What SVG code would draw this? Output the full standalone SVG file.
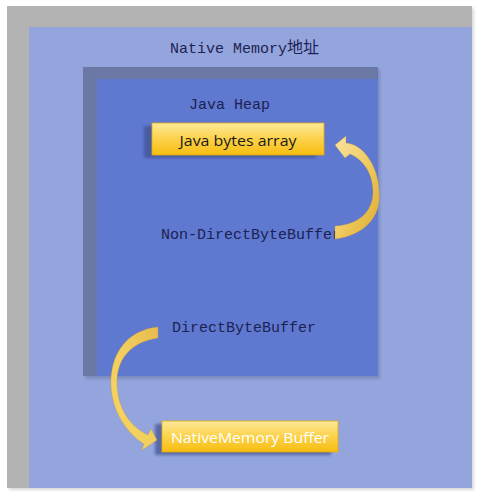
<svg xmlns="http://www.w3.org/2000/svg" width="477" height="496" viewBox="0 0 477 496">
<defs>
<linearGradient id="boxGrad" x1="0" y1="0" x2="0" y2="1">
<stop offset="0" stop-color="#fde99a"/>
<stop offset="0.5" stop-color="#fcd24a"/>
<stop offset="1" stop-color="#f7bd10"/>
</linearGradient>
<linearGradient id="arrowGradA" x1="0" y1="0" x2="1" y2="1">
<stop offset="0" stop-color="#f8e3a0"/>
<stop offset="0.5" stop-color="#efcb62"/>
<stop offset="1" stop-color="#dcaa2c"/>
</linearGradient>
<linearGradient id="arrowGradB" x1="1" y1="0" x2="0" y2="1">
<stop offset="0" stop-color="#e6bc50"/>
<stop offset="0.5" stop-color="#f2cf5c"/>
<stop offset="1" stop-color="#f6d466"/>
</linearGradient>
<filter id="soft" x="-10%" y="-10%" width="120%" height="120%">
<feGaussianBlur stdDeviation="1.5"/>
</filter>
</defs>
<style>
.mono{font-family:"Liberation Mono","Noto Sans CJK SC",monospace;font-size:15px;fill:#1c2252}
.box{fill:url(#boxGrad);stroke:#e3aa10;stroke-width:0.8}
.shadow{fill:#3e4f8e;opacity:0.7}
.btxt{font-family:"Open Sans","Liberation Sans",sans-serif;font-size:15px}
.arrow{stroke:#c9982a;stroke-width:0.6;stroke-opacity:0.5}
</style>
<rect width="477" height="496" fill="#ffffff"/>
<g id="native-memory">
<rect x="9" y="8" width="465" height="482" fill="#000" opacity="0.15" filter="url(#soft)"/>
<rect x="7" y="6" width="465" height="482" fill="#b3b3b3"/>
<rect x="29" y="27" width="443" height="461" fill="#94a5de"/>
<text class="mono" x="170" y="53">Native Memory<tspan font-size="16">地址</tspan></text>
</g>
<g id="java-heap">
<rect x="85" y="69" width="295" height="310" fill="#000" opacity="0.15" filter="url(#soft)"/>
<rect x="83" y="67" width="295" height="309" fill="#6b78a6"/>
<rect x="97" y="79" width="281" height="297" fill="#5f78d0"/>
<text class="mono" x="189" y="109">Java Heap</text>
</g>
<g id="java-bytes-array">
<rect class="shadow" x="144" y="126" width="172" height="32" filter="url(#soft)"/>
<rect class="box" x="152" y="123" width="172" height="32"/>
<text class="btxt" x="238" y="146" text-anchor="middle" fill="#1a1a1a" textLength="117" lengthAdjust="spacingAndGlyphs">Java bytes array</text>
</g>
<g id="non-direct-byte-buffer">
<text class="mono" x="161" y="239">Non-DirectByteBuffer</text>
</g>
<g id="direct-byte-buffer">
<text class="mono" x="172" y="332">DirectByteBuffer</text>
</g>
<g id="native-memory-buffer">
<rect class="shadow" x="155" y="424" width="176" height="31" filter="url(#soft)"/>
<rect class="box" x="162" y="421" width="176" height="31"/>
<text class="btxt" x="250" y="443" text-anchor="middle" fill="#ffffff" font-size="16" textLength="158" lengthAdjust="spacingAndGlyphs">NativeMemory Buffer</text>
</g>
<g id="connectors">
<path class="arrow" fill="url(#arrowGradA)" d="M335 239 C362 236 382 218 379 192 C379 168 364 144 346 143 L346 136 L335 145 L345 158 L350 154 C362 159 373 172 373 192 C373 212 358 225 335 226 Z"/>
<path class="arrow" fill="url(#arrowGradB)" d="M158 327 C126 330 110 355 111 385 C112 412 127 433 144 444 L142 450 L157 440 L151 429 L148 435 C131 427 118 410 117 385 C116 360 130 342 158 338 Z"/>
</g>
</svg>
